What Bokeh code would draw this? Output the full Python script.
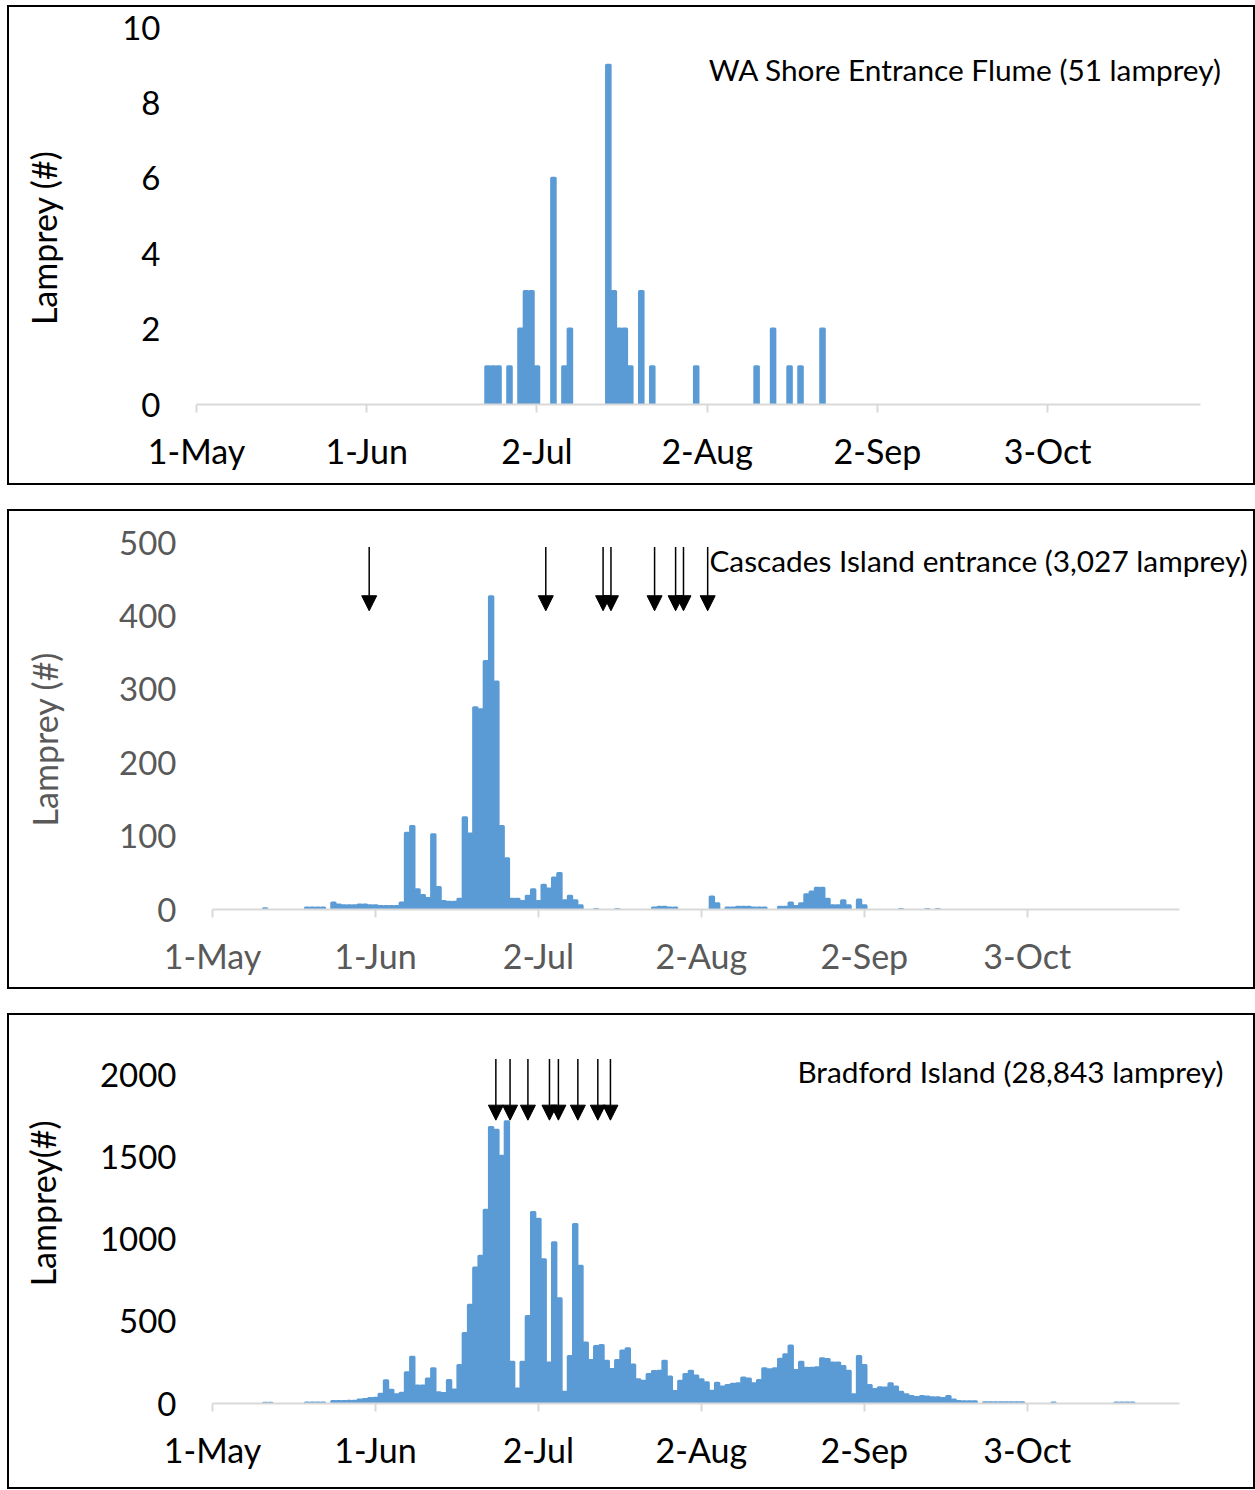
from bokeh.plotting import figure
from bokeh.layouts import column
from bokeh.models import FixedTicker, Label, Arrow, NormalHead, Range1d, ColumnDataSource
from bokeh.embed import file_html
from bokeh.resources import INLINE

# ---- axis ticks (days counted from 1-May) ----
tick_days = [0, 31, 62, 93, 124, 155]
tick_labels = ["1-May", "1-Jun", "2-Jul", "2-Aug", "2-Sep", "3-Oct"]

# ---- WA Shore Entrance Flume ----
wa_days = [53, 54, 55, 57, 59, 60, 61, 62, 65, 67, 68, 75, 76, 77, 78, 79, 81, 83,
           91, 102, 105, 108, 110, 114]
wa_counts = [1, 1, 1, 1, 2, 3, 3, 1, 6, 1, 2, 9, 3, 2, 2, 1, 3, 1,
             1, 1, 2, 1, 1, 2]

# ---- Cascades Island entrance ----
ci_days = ([10, 18, 19, 20, 21] + list(range(23, 71)) + [73, 77, 84, 85, 86, 87, 88, 95, 96]
           + list(range(98, 106)) + list(range(108, 122)) + [123, 124, 131, 136, 138])
ci_counts = ([1, 2, 2, 2, 2]
             + [9, 6, 5, 5, 5, 6, 6, 5, 5, 4, 4, 4, 4, 9,
                104, 113, 27, 19, 15, 102, 30, 11, 10, 10, 14, 125, 103, 275, 272, 338, 426,
                310, 113, 69, 14, 14, 11, 18, 27, 11, 33, 28, 43, 49, 12, 18, 12, 5]
             + [0, 0, 2, 3, 3, 2, 2, 17, 8]
             + [2, 2, 3, 3, 3, 2, 2, 2]
             + [3, 3, 9, 4, 8, 20, 24, 29, 29, 14, 5, 5, 12, 5]
             + [13, 5, 0, 0, 0])
ci_arrow_days = [29.8, 63.4, 74.3, 75.8, 84.1, 88.1, 89.6, 94.2]

# ---- Bradford Island ----
bi_days = ([10, 11, 18, 19, 20, 21] + list(range(23, 146)) + list(range(147, 155))
           + [160, 172, 173, 174, 175])
bi_counts = ([2, 2, 3, 3, 3, 3]
             + [12, 12, 12, 14, 14, 22, 25, 30, 32,
                57, 138, 80, 53, 63, 188, 282, 106, 106, 150, 211, 65, 61, 140, 83, 232,
                427, 598, 825, 897, 1177, 1681, 1665, 1506, 1716, 252, 89, 252, 530, 1163,
                1122, 876, 246, 979, 638, 69, 287, 1090, 836, 368, 262, 348, 354, 258, 207,
                262, 320, 333, 234, 145,
                136, 177, 195, 197, 258, 161, 73, 136, 177, 197, 167, 144, 126, 75, 124, 100,
                110, 118, 120, 155, 150, 120, 140, 211, 205, 211, 270, 297, 350, 201, 252,
                215, 215, 218, 273, 268, 246, 246, 226, 197,
                53, 287, 232, 110, 85, 96, 94, 120, 100, 69, 53, 43, 37, 43, 39, 35, 35, 30,
                43, 22, 12, 10, 10, 10]
             + [5, 5, 5, 5, 5, 5, 5, 5]
             + [3, 3, 3, 3, 3])
bi_arrow_days = [53.9, 56.6, 60.0, 64.1, 65.8, 69.5, 73.3, 75.7]

BLUE = "#5B9BD5"
FONT = "Lato"
W = 1248
LEFT, RIGHT = 187, 3
NB = "\u00a0"


def make_panel(days, counts, x_range, axis_end, y_end, y_ticks, h, top, bottom,
               label_color, ylabel, tick_standoff, ylabel_standoff, title, title_x, title_y):
    p = figure(width=W, height=h, x_range=Range1d(*x_range), y_range=Range1d(0, y_end),
               output_backend="svg", toolbar_location=None,
               min_border_left=LEFT, min_border_right=RIGHT,
               min_border_top=top, min_border_bottom=bottom,
               styles={"border": "2px solid black"})
    p.xgrid.visible = False
    p.ygrid.visible = False
    p.outline_line_color = None
    src = ColumnDataSource(dict(day=days, count=counts))
    p.vbar(x="day", top="count", width=0.65, source=src, fill_color=BLUE,
           line_color=BLUE, line_width=3, line_join="round")

    xa = p.xaxis[0]
    xa.bounds = (0, axis_end)
    xa.ticker = FixedTicker(ticks=tick_days)
    xa.major_label_overrides = {d: t for d, t in zip(tick_days, tick_labels)}
    xa.axis_line_color = "#d9d9d9"
    xa.axis_line_width = 2
    xa.major_tick_line_color = "#d9d9d9"
    xa.major_tick_line_width = 2
    xa.major_tick_out = 8
    xa.major_tick_in = 0
    xa.minor_tick_line_color = None
    xa.major_label_standoff = 17
    xa.major_label_text_font = FONT
    xa.major_label_text_font_size = "34px"
    xa.major_label_text_color = label_color

    ya = p.yaxis[0]
    ya.ticker = FixedTicker(ticks=y_ticks)
    ya.axis_line_color = None
    ya.major_tick_line_color = None
    ya.minor_tick_line_color = None
    ya.major_tick_out = 0
    ya.major_tick_in = 0
    ya.major_label_standoff = tick_standoff
    ya.major_label_text_font = FONT
    ya.major_label_text_font_size = "33px"
    ya.major_label_text_color = label_color
    ya.axis_label = ylabel
    ya.axis_label_text_font = FONT
    ya.axis_label_text_font_size = "34px"
    ya.axis_label_text_font_style = "normal"
    ya.axis_label_text_color = label_color
    ya.axis_label_standoff = ylabel_standoff

    p.add_layout(Label(x=title_x, y=title_y, text=title, text_align="right",
                       text_baseline="middle", text_font=FONT, text_font_size="29.8px",
                       text_color="black"))
    return p


p1 = make_panel(wa_days, wa_counts, (0, 192.67), 182.8, 10, [0, 2, 4, 6, 8, 10], 480, 20, 83,
                "black", "Lamprey (#)" + NB * 5, 36, 55,
                "WA Shore Entrance Flume (51 lamprey)", 186.73, 8.89)

p2 = make_panel(ci_days, ci_counts, (-3.056, 198.24), 183.9, 500, [0, 100, 200, 300, 400, 500],
                480, 31, 82, "#595959", "Lamprey (#)" + NB * 3, 20, 51,
                "Cascades Island entrance (3,027 lamprey)", 196.93, 475.5)
for d in ci_arrow_days:
    p2.add_layout(Arrow(end=NormalHead(size=15, fill_color="black", line_color="black"),
                        x_start=d, y_start=494, x_end=d, y_end=407,
                        line_color="black", line_width=1.5))

p3 = make_panel(bi_days, bi_counts, (-3.056, 198.24), 183.9, 2120, [0, 500, 1000, 1500, 2000],
                476, 40, 88, "black", NB * 6 + "Lamprey(#)", 20, 34,
                "Bradford Island (28,843 lamprey)", 192.34, 2024)
for d in bi_arrow_days:
    p3.add_layout(Arrow(end=NormalHead(size=15, fill_color="black", line_color="black"),
                        x_start=d, y_start=2098, x_end=d, y_end=1726,
                        line_color="black", line_width=1.5))

layout = column(p1, p2, p3, spacing=24, margin=(5, 0, 0, 7))
open("out.html", "w").write(file_html(layout, INLINE))
